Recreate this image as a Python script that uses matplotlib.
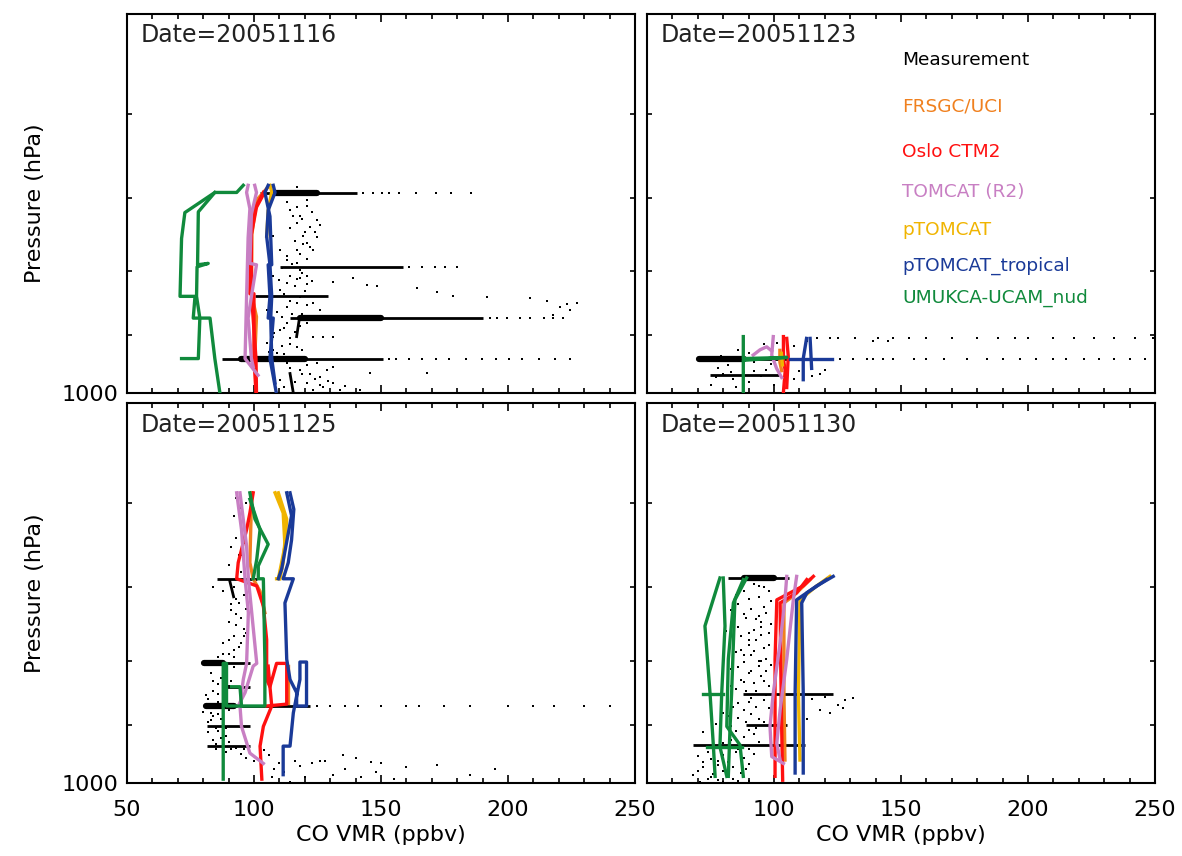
import matplotlib
matplotlib.use('Agg')
import matplotlib.pyplot as plt
from matplotlib.ticker import NullLocator, MultipleLocator

plt.rcParams['font.family'] = ['DejaVu Sans']

# ---- legend / models
model_names = ['Measurement', 'FRSGC/UCI', 'Oslo CTM2', 'TOMCAT (R2)', 'pTOMCAT',
               'pTOMCAT_tropical', 'UMUKCA-UCAM_nud']
model_colors = ['black', '#f0801e', '#ff1010', '#c87fc3', '#f0b400', '#1a3a98', '#108a3c']
dates = ['20051116', '20051123', '20051125', '20051130']

x_ticks = [50, 100, 150, 200, 250]
p_ticks = [600, 700, 800, 900, 1000]

# ---------------- 20051116 ----------------
frsgc_1116 = [[(105.6, 686), (101, 703), (99.2, 748), (99, 834), (101, 870), (100.3, 939)]]
oslo_1116 = [[(103.7, 693), (100, 716), (98.7, 751), (98.4, 834), (100, 834), (100, 939), (100.8, 1000)],
             [(104.3, 692), (101, 712), (99, 748), (99, 834), (100.8, 939), (101, 1000)]]
tomcat_1116 = [[(97.7, 684), (97.1, 693), (98.4, 714), (97.7, 753), (97.1, 838), (96.5, 939), (101.6, 968)],
               [(100.3, 684), (101, 693), (99, 721), (98.4, 789), (101, 791), (99, 838), (97.7, 872),
                (99, 939), (99.7, 953)]]
ptomcat_1116 = [[(106.3, 684), (107, 692), (105.6, 716), (105, 751)]]
trop_1116 = [[(105.6, 684), (104.3, 693), (106.3, 724), (107, 791), (105.6, 791), (106.3, 838), (105.6, 872),
              (107.6, 872), (106.3, 939), (108.7, 997)],
             [(107.6, 684), (108.3, 693), (105.6, 716), (105, 751), (106.3, 791), (107, 838), (106.6, 872),
              (107, 939), (108.3, 982)]]
umukca_1116 = [[(95.8, 684), (93.2, 693), (84.6, 693), (72.8, 719), (71.5, 754), (70.9, 838), (76.8, 838),
                (76.1, 872), (82.7, 872), (84.6, 939), (86.6, 1000)],
               [(84.6, 693), (78.1, 718), (77.8, 791), (82, 789), (77.6, 794), (77.4, 838), (78.7, 872),
                (78.1, 939), (71.5, 939)]]
streaks_1116 = [(694, 102.4, 140.4), (794, 110.2, 158.8), (838, 100.4, 129.3), (872, 114.2, 190.3),
                (939, 87.3, 150.9)]
blobs_1116 = [(694, 108, 125), (872, 118, 150), (939, 95, 120)]
segs_1116 = [[(117.8, 875), (116.8, 902)], [(114.2, 965), (115.5, 1000)]]
dots_1116 = ([(v, 694) for v in [143, 146.7, 150.6, 153.2, 157.1, 163.6, 171.5, 177.4, 185.3]]
             + [(v, 794) for v in [160.9, 166.1, 171.4, 175.3, 179.9]]
             + [(v, 872) for v in [192.9, 195.6, 199.5, 204.8, 208.7, 214, 217.9, 221.8]]
             + [(v, 939) for v in [153.2, 155.8, 161.1, 166.3, 171.5, 176.8, 183.3, 189.9, 195.1, 200.4,
                                   205.6, 212.2, 218.7, 224.6]]
             + [(118.1, 811), (131.2, 816), (139.1, 811), (144.4, 821), (148.3, 823), (164.1, 826),
                (171.9, 831), (178.5, 838), (191.6, 839), (208.7, 840), (215.2, 845), (220.5, 854),
                (223.1, 850), (227, 848), (217.9, 867), (224.4, 859), (123.4, 902), (127, 902),
                (131.2, 902), (145.7, 964), (168, 964),
                (116.8, 686), (120.7, 702), (118.1, 724), (122, 738), (119.4, 751), (123.4, 770),
                (116.8, 770), (112.9, 784), (118.1, 798), (120.7, 808), (112.9, 818), (110.2, 828),
                (118.1, 839), (123.4, 849), (126, 859), (112.9, 880), (110.2, 891), (107.6, 902),
                (105, 913), (107.6, 924), (112.9, 947), (118.1, 959), (126, 971), (131.2, 982),
                (120.7, 982), (110.2, 976), (118.1, 936), (124.7, 947), (131.2, 953), (112.9, 854),
                (105, 859), (120.7, 880), (115.5, 724), (124.7, 729), (114.2, 716), (119.4, 761),
                (107.6, 751), (110.2, 770), (107.6, 808), (128.6, 959), (133.9, 995), (141.7, 995),
                (123.4, 995), (121, 710), (124, 745), (117, 733), (121, 760), (115, 790), (117, 812),
                (121, 820), (114, 845), (119, 866), (111, 870), (116, 895), (109, 930), (114, 915),
                (119, 925), (122, 965), (126, 985),
                (113, 705), (117, 712), (123, 718), (119, 727), (126, 735), (114, 740), (120, 745),
                (125, 752), (116, 758), (122, 765), (118, 775), (113, 778), (121, 782), (117, 788),
                (111, 795), (119, 803), (114, 807), (123, 815), (110, 813), (116, 822), (120, 830),
                (112, 834), (117, 848), (121, 852), (109, 862), (115, 866), (118, 884), (112, 888),
                (108, 896), (114, 905), (111, 918), (117, 920), (106, 928), (112, 932), (116, 942),
                (121, 950), (114, 955), (119, 965), (124, 975), (129, 978), (116, 980), (112, 990),
                (127, 990), (136, 988)])

# ---------------- 20051123 ----------------
frsgc_1123 = [[(102.3, 925), (102.3, 945), (103, 960)]]
oslo_1123 = [[(103.7, 902), (103.7, 940), (104.4, 960), (103.7, 998)],
             [(105, 905), (105.6, 935), (105, 990)]]
tomcat_1123 = [[(99.7, 902), (99.1, 933), (101, 956), (103, 972)],
               [(91.8, 933), (94.5, 924), (97.1, 919), (99.1, 926)]]
ptomcat_1123 = [[(102.9, 930), (103.3, 950)]]
trop_1123 = [[(112.8, 905), (111.5, 939), (111.5, 976)], [(106.3, 939), (122.7, 939)],
             [(114.2, 905), (114.8, 956)]]
umukca_1123 = [[(87.9, 902), (87.9, 939), (105, 937), (87.9, 942), (87.9, 998)]]
streaks_1123 = [(939, 70.2, 112), (968, 74.8, 102)]
blobs_1123 = [(939, 70.5, 88)]
segs_1123 = []
dots_1123 = ([(v, 939) for v in [126, 131, 136.5, 139, 143, 147, 155, 160, 167, 176, 184, 190, 197, 203,
                                 210, 215, 222, 228, 234, 240, 246]]
             + [(v, 904) for v in [117, 122, 125, 132, 141, 147, 153, 160, 170, 180, 188, 195, 200, 210,
                                   218, 226, 234, 242, 249]]
             + [(80, 965), (84, 975), (90, 980), (95, 970), (100, 985), (108, 975), (115, 970),
                (118, 965), (78, 955), (82, 950), (110, 960), (120, 958), (75, 985), (85, 990),
                (92, 960), (96, 915), (101, 912), (108, 918), (113, 910), (86, 925), (79, 935),
                (73, 936), (76, 944), (81, 941), (139, 909), (145, 909), (90, 930), (94, 926),
                (88, 962), (97, 958), (77, 972), (83, 962), (92, 945), (99, 948)])

# ---------------- 20051125 ----------------
frsgc_1125 = [[(99.1, 589), (98.4, 669), (99.7, 689), (102.4, 705), (104.3, 733)],
              [(113.5, 808), (113.5, 864)]]
oslo_1125 = [[(99.7, 589), (98.4, 611), (97.1, 630), (93.8, 669), (93.2, 689), (101.1, 698), (103.7, 724),
              (105, 770), (105, 828), (106.3, 839), (107, 869), (103.7, 902), (102.4, 935), (103.1, 993)],
             [(105.6, 808), (106.3, 839), (108.9, 804), (112.9, 804), (112.9, 866), (105, 869)]]
tomcat_1125 = [[(93.2, 589), (95.1, 630), (96.5, 689), (97.8, 733), (97.1, 804), (95.8, 828), (94.5, 869),
                (95.1, 902), (98.4, 947), (103.7, 965)],
               [(94.5, 589), (97.1, 649), (97.8, 689), (101.1, 804), (99.7, 808), (96.5, 848), (93.8, 869)]]
ptomcat_1125 = [[(108.3, 589), (111.5, 611), (112.2, 649), (109.6, 689), (108.9, 689)],
                [(109.6, 589), (112.9, 618), (111.5, 669), (110.2, 689)]]
trop_1125 = [[(114.2, 589), (115.7, 607), (114.8, 642), (113.5, 669), (111.5, 689), (115.5, 689),
              (112.2, 720), (112.9, 798), (114.2, 828), (116.8, 848), (116.8, 869), (120.7, 869),
              (120.7, 802), (118.1, 802), (118.1, 828), (115.5, 880), (114.2, 935), (111.5, 935),
              (111.5, 985)],
             [(112.9, 589), (114.8, 614), (110.9, 677), (109.6, 689)]]
umukca_1125 = [[(98.4, 589), (100.4, 618), (105.6, 647), (101.7, 673), (101.7, 689), (103.7, 689),
                (104.3, 798), (104.3, 869), (89.2, 869), (89.2, 804), (87.9, 804), (87.9, 993)],
               [(98.4, 596), (102.4, 630), (101.1, 665), (99.7, 689)],
               [(91.2, 839), (94.5, 839), (95.1, 869)]]
streaks_1125 = [(689, 85.3, 101.1), (804, 80.1, 98.4), (839, 89.2, 98.4), (869, 80.7, 122),
                (901, 81.4, 98.4), (934, 81.4, 98.4)]
blobs_1125 = [(869, 81, 92), (804, 80.5, 88)]
segs_1125 = [[(90.5, 692), (92, 712)]]
dots_1125 = ([(v, 869) for v in [125, 130, 136, 141, 150, 160, 165, 175, 185, 200, 210, 218, 230, 240]]
             + [(93, 595), (95, 605), (92, 615), (96, 625), (93, 640), (91, 650), (94, 660), (90, 672),
                (95, 680), (92, 700), (96, 710), (94, 720), (91, 730), (95, 740), (93, 750), (97, 760),
                (90, 770), (94, 780), (88, 790), (92, 795), (85, 800), (89, 812), (83, 818), (87, 825),
                (91, 830), (84, 845), (88, 850), (82, 858), (86, 862), (90, 875), (84, 885), (87, 890),
                (82, 895), (86, 910), (89, 918), (84, 925), (91, 940), (95, 948), (97, 955), (100, 960),
                (106, 950), (108, 975), (112, 980), (118, 970), (123, 965), (128, 960), (131, 985),
                (136, 975), (142, 990), (148, 980), (120, 990), (114, 998), (140, 955), (150, 965),
                (155, 992), (126, 960), (135, 950), (146, 963), (160, 972), (172, 968), (185, 985),
                (195, 975), (97, 600), (98, 620), (96, 645), (95, 660), (97, 700), (93, 715),
                (96, 765), (92, 785), (86, 835), (83, 880), (89, 905), (85, 940),
                (84, 700), (88, 705), (94, 690), (97, 695), (91, 722), (97, 728), (93, 735), (90, 745),
                (96, 755), (92, 765), (88, 775), (95, 775), (90, 790), (86, 795), (92, 810), (88, 820),
                (84, 830), (90, 838), (86, 850), (81, 852), (88, 858), (84, 870), (80, 878), (86, 882),
                (83, 892), (88, 898), (85, 905), (82, 912), (87, 922), (90, 928), (85, 932), (93, 938),
                (89, 945), (96, 940), (101, 955), (104, 942), (110, 965), (116, 960), (103, 985),
                (107, 990)])

# ---------------- 20051130 ----------------
frsgc_1130 = [[(114.2, 690), (107.6, 711), (103.9, 720), (103.9, 849), (104.3, 959)]]
oslo_1130 = [[(115.5, 686), (111.5, 698), (101.1, 716), (100.4, 798), (100.4, 902), (100.4, 988)],
             [(112.9, 690), (108.9, 707), (102.4, 720), (102.6, 798), (103, 902), (103.4, 995)]]
tomcat_1130 = [[(105, 686), (104.3, 716), (102.4, 774), (99.7, 849), (98.4, 902), (99.1, 953), (103.7, 965)],
               [(108.9, 686), (107.6, 716), (105, 798), (102.4, 875), (101.1, 930), (102.4, 959)]]
ptomcat_1130 = [[(122, 686), (116.8, 698), (110.2, 716), (109.6, 849), (110.2, 959)]]
trop_1130 = [[(123.3, 686), (116.8, 698), (108.9, 716), (108.3, 849), (108.3, 982)],
             [(120.7, 690), (112.9, 707), (110.9, 720), (111.5, 849), (111.5, 982)]]
umukca_1130 = [[(78.7, 688), (72.8, 751), (74.8, 849), (76.1, 933), (76.8, 988)],
               [(80, 688), (80.7, 751), (79.4, 849), (78.7, 936), (81.4, 988)],
               [(89.2, 688), (84.6, 716), (83.3, 849), (82.7, 902), (82, 988)],
               [(87.9, 690), (84, 720), (82, 798), (81.4, 902), (86.6, 933), (87.9, 988)],
               [(72.2, 850), (80, 850)], [(73.5, 936), (87.3, 936)]]
streaks_1130 = [(688, 82, 106), (850, 87.9, 123.3), (899, 89, 105), (933, 68, 112)]
blobs_1130 = [(688, 88, 100)]
segs_1130 = []
dots_1130 = [(92, 695), (96, 700), (88, 705), (94, 712), (99, 718), (86, 722), (91, 728), (97, 733),
             (89, 740), (95, 745), (84, 750), (92, 756), (98, 760), (87, 765), (93, 770), (90, 778),
             (96, 782), (85, 788), (91, 792), (97, 797), (88, 802), (94, 808), (83, 812), (90, 818),
             (95, 823), (87, 828), (92, 833), (98, 838), (85, 842), (91, 856), (96, 860), (86, 865),
             (93, 870), (88, 876), (99, 880), (82, 885), (94, 890), (89, 895), (79, 905), (85, 910),
             (92, 915), (76, 920), (83, 925), (90, 940), (74, 945), (80, 950), (88, 955), (72, 962),
             (78, 968), (84, 972), (70, 978), (76, 983), (82, 988), (74, 993), (86, 996), (80, 999),
             (110, 862), (115, 858), (120, 855), (125, 868), (128, 860), (131, 856), (118, 875),
             (122, 880), (113, 890), (127, 872), (94, 738), (90, 760), (95, 800), (89, 845),
             (93, 905), (86, 940), (78, 960), (89, 975), (95, 752), (87, 785), (97, 815),
             (90, 690), (94, 698), (98, 705), (85, 710), (90, 715), (96, 725), (83, 730), (88, 735),
             (93, 742), (99, 748), (86, 752), (81, 758), (95, 764), (90, 770), (84, 775), (98, 778),
             (92, 786), (88, 792), (82, 798), (94, 800), (99, 806), (86, 810), (91, 815), (80, 820),
             (88, 832), (96, 830), (83, 838), (93, 845), (79, 850), (97, 852), (90, 862), (84, 870),
             (98, 872), (80, 880), (91, 882), (86, 888), (96, 895), (77, 898), (83, 902), (90, 908),
             (72, 912), (88, 920), (80, 930), (94, 928), (76, 938), (85, 945), (70, 952), (92, 948),
             (75, 958), (82, 962), (90, 966), (72, 972), (80, 978), (87, 982), (68, 985), (75, 990),
             (84, 992), (90, 997), (71, 998), (78, 994)]

panels = [
    dict(date=dates[0], rect=[0.1074, 0.5409, 0.4298, 0.4428], dots=dots_1116, streaks=streaks_1116,
         blobs=blobs_1116, segs=segs_1116,
         models=[frsgc_1116, oslo_1116, tomcat_1116, ptomcat_1116, trop_1116, umukca_1116],
         left=True, bottom=False),
    dict(date=dates[1], rect=[0.5474, 0.5409, 0.4298, 0.4428], dots=dots_1123, streaks=streaks_1123,
         blobs=blobs_1123, segs=segs_1123,
         models=[frsgc_1123, oslo_1123, tomcat_1123, ptomcat_1123, trop_1123, umukca_1123],
         left=False, bottom=False),
    dict(date=dates[2], rect=[0.1074, 0.0853, 0.4298, 0.4439], dots=dots_1125, streaks=streaks_1125,
         blobs=blobs_1125, segs=segs_1125,
         models=[frsgc_1125, oslo_1125, tomcat_1125, ptomcat_1125, trop_1125, umukca_1125],
         left=True, bottom=True),
    dict(date=dates[3], rect=[0.5474, 0.0853, 0.4298, 0.4439], dots=dots_1130, streaks=streaks_1130,
         blobs=blobs_1130, segs=segs_1130,
         models=[frsgc_1130, oslo_1130, tomcat_1130, ptomcat_1130, trop_1130, umukca_1130],
         left=False, bottom=True),
]

# draw order of the model profiles (index into model_colors[1:])
draw_order = [0, 3, 1, 4, 2, 5]

fig = plt.figure(figsize=(11.82, 8.56), dpi=100)

for pn in panels:
    ax = fig.add_axes(pn['rect'])
    ax.set_yscale('log')

    # measurement: dots, dense streaks, short segments
    ax.scatter([d[0] for d in pn['dots']], [d[1] for d in pn['dots']], s=4, marker='s',
               color='black', linewidths=0, zorder=2)
    for p, x0, x1 in pn['streaks']:
        ax.plot([x0, x1], [p, p], color='black', lw=2.0, solid_capstyle='butt', zorder=2)
    for p, x0, x1 in pn['blobs']:
        ax.plot([x0, x1], [p, p], color='black', lw=4.5, solid_capstyle='round', zorder=2)
    for sg in pn['segs']:
        ax.plot([q[0] for q in sg], [q[1] for q in sg], color='black', lw=2, zorder=2)

    # model profiles
    for i in draw_order:
        for path in pn['models'][i]:
            ax.plot([q[0] for q in path], [q[1] for q in path], color=model_colors[i + 1],
                    lw=2.4, zorder=3 + i * 0.1)

    ax.set_xlim(50, 250)
    ax.set_ylim(1000, 500)
    ax.set_xticks(x_ticks)
    ax.xaxis.set_minor_locator(MultipleLocator(10))
    ax.set_yticks(p_ticks)
    ax.yaxis.set_minor_locator(NullLocator())
    ax.tick_params(which='both', direction='in', top=True, right=True, width=1.2)
    ax.tick_params(which='major', length=6, labelsize=16)
    ax.tick_params(which='minor', length=3.5)
    ax.tick_params(axis='y', which='major', length=3.5)
    ax.tick_params(axis='x', pad=12)
    ax.tick_params(axis='y', pad=6)
    for s in ax.spines.values():
        s.set_linewidth(1.5)

    if pn['left']:
        ax.set_yticklabels(['', '', '', '', '1000'])
        ax.set_ylabel('Pressure (hPa)', fontsize=16, labelpad=12)
    else:
        ax.set_yticklabels([])
    if pn['bottom']:
        if pn['left']:
            ax.set_xticklabels([str(v) for v in x_ticks])
        else:
            ax.set_xticklabels([''] + [str(v) for v in x_ticks[1:]])
        ax.set_xlabel('CO VMR (ppbv)', fontsize=16, labelpad=4)
    else:
        ax.set_xticklabels([])

    ax.text(0.027, 0.975, 'Date=' + pn['date'], transform=ax.transAxes, fontsize=17,
            ha='left', va='top', color='#222222')

    if pn['date'] == dates[1]:
        legend_y = [0.879, 0.755, 0.636, 0.530, 0.430, 0.335, 0.251]
        for name, col, yy in zip(model_names, model_colors, legend_y):
            ax.text(0.502, yy, name, transform=ax.transAxes, fontsize=13.3, color=col,
                    ha='left', va='center')

fig.savefig('out.png', dpi=100)
